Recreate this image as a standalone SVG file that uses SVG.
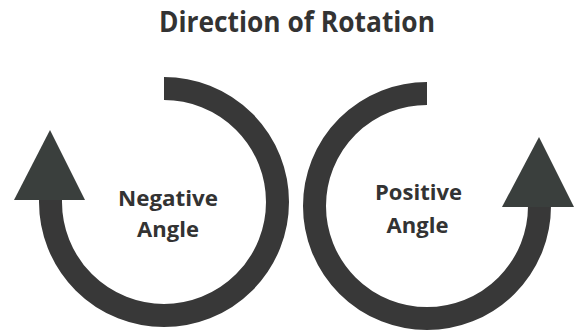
<svg xmlns="http://www.w3.org/2000/svg" width="574" height="333" viewBox="0 0 574 333">
  <style>
    .arc { fill: none; stroke: #383838; stroke-width: 23; stroke-linecap: butt; }
    .head { fill: #3a3f3d; }
    .lbl { font-family: "Open Sans", "Liberation Sans", sans-serif; font-weight: bold; fill: #333333; text-anchor: middle; }
  </style>
  <rect width="574" height="333" fill="#ffffff"/>
  <g id="title">
    <text class="lbl" x="297" y="31.5" font-size="28" textLength="276" lengthAdjust="spacingAndGlyphs">Direction of Rotation</text>
  </g>
  <g id="connectors">
    <path class="arc" d="M 164 88.5 A 113.5 113.5 0 1 1 50.5 202 L 50.5 199"/>
    <polygon class="head" points="50,130 14,200 85,200"/>
    <path class="arc" d="M 427 93.5 A 112.5 112.5 0 1 0 539.5 206 L 539.5 205"/>
    <polygon class="head" points="539,137 502,207 574,207"/>
  </g>
  <g id="negative">
    <text class="lbl" x="168" y="206" font-size="22" textLength="100" lengthAdjust="spacingAndGlyphs">Negative</text>
    <text class="lbl" x="168" y="237" font-size="22">Angle</text>
  </g>
  <g id="positive">
    <text class="lbl" x="418.5" y="200" font-size="22" textLength="87" lengthAdjust="spacingAndGlyphs">Positive</text>
    <text class="lbl" x="417.5" y="233" font-size="22">Angle</text>
  </g>
</svg>
